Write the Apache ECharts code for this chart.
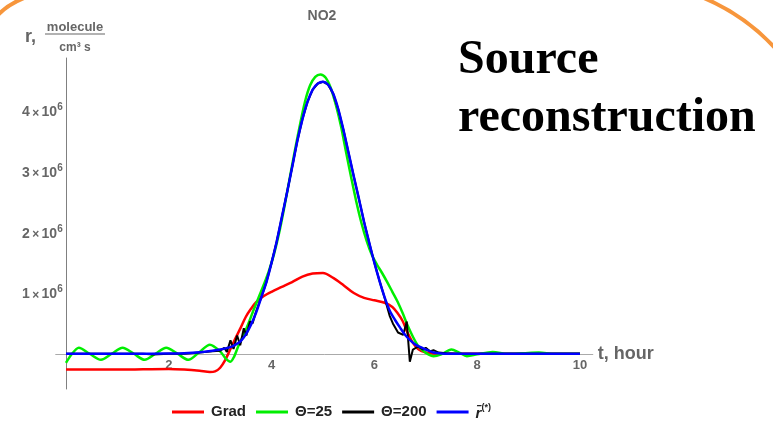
<!DOCTYPE html>
<html><head><meta charset="utf-8">
<script src="https://cdn.jsdelivr.net/npm/echarts@6/dist/echarts.min.js"></script>
<style>html,body{margin:0;padding:0;background:#fff}#c{width:773px;height:421px}</style>
</head><body><div id="c"></div>
<script>
// t in hours, r in units of 10^6 molecule/(cm^3 s)
const xTicks = [2, 4, 6, 8, 10];
const yTicks = [1, 2, 3, 4];
const seriesNames = ['Grad', 'Θ=25', 'Θ=200', 'r̄(*)'];
const seriesColors = ['#ff0000', '#00ee00', '#000000', '#0000ff'];

const grad = [[0,-0.26],[0.5,-0.26],[1,-0.26],[1.5,-0.255],[2,-0.25],[2.3,-0.26],[2.6,-0.28],[2.8,-0.30],[2.9,-0.29],[3.0,-0.23],[3.1,-0.10],[3.2,0.08],[3.3,0.26],[3.4,0.43],[3.5,0.61],[3.6,0.74],[3.7,0.85],[3.85,0.95],[4.0,1.02],[4.2,1.10],[4.4,1.18],[4.6,1.27],[4.8,1.32],[5.0,1.33],[5.2,1.25],[5.4,1.13],[5.6,1.0],[5.8,0.92],[6.0,0.88],[6.2,0.84],[6.35,0.77],[6.45,0.67],[6.55,0.54],[6.65,0.34],[6.75,0.18],[6.85,0.08],[7.0,0.02],[7.3,0],[8,0],[9,0],[10,0]];

const theta25 = [[0,-0.15],[0.1,-0.02],[0.25,0.10],[0.46,0.0],[0.68,-0.10],[0.89,0.0],[1.1,0.10],[1.32,0.0],[1.53,-0.10],[1.74,0.0],[1.95,0.10],[2.17,0.0],[2.38,-0.10],[2.6,0.03],[2.8,0.15],[3.0,0.04],[3.1,-0.07],[3.2,-0.13],[3.27,-0.05],[3.35,0.12],[3.45,0.3],[3.55,0.5],[3.65,0.72],[3.75,0.93],[3.85,1.14],[3.95,1.37],[4.05,1.65],[4.15,2.0],[4.25,2.42],[4.35,2.88],[4.45,3.33],[4.55,3.76],[4.65,4.15],[4.75,4.42],[4.85,4.56],[4.95,4.6],[5.05,4.55],[5.15,4.38],[5.25,4.1],[5.35,3.75],[5.45,3.32],[5.55,2.9],[5.65,2.5],[5.75,2.15],[5.85,1.86],[5.95,1.63],[6.05,1.47],[6.15,1.33],[6.25,1.18],[6.35,1.02],[6.45,0.86],[6.55,0.67],[6.65,0.46],[6.75,0.28],[6.85,0.13],[6.95,0.05],[7.05,-0.01],[7.15,-0.04],[7.3,-0.01],[7.5,0.07],[7.65,0.02],[7.8,-0.04],[8.0,-0.01],[8.3,0.03],[8.6,0.0],[8.9,0.01],[9.2,0.02],[9.5,0.0],[10,0]];

const theta200 = [[0,0],[0.5,0],[1,0],[1.5,0],[1.7,-0.01],[2.0,0.0],[2.3,0.0],[2.6,0.02],[2.85,0.04],[3.0,0.05],[3.08,0.1],[3.13,0.03],[3.2,0.22],[3.26,0.08],[3.33,0.3],[3.39,0.14],[3.46,0.42],[3.51,0.3],[3.58,0.53],[3.63,0.5],[3.7,0.7],[3.8,0.93],[3.9,1.18],[4.0,1.5],[4.1,1.85],[4.2,2.25],[4.3,2.65],[4.4,3.07],[4.5,3.5],[4.6,3.86],[4.7,4.15],[4.8,4.35],[4.9,4.45],[5.0,4.48],[5.1,4.43],[5.2,4.28],[5.3,4.02],[5.4,3.68],[5.5,3.3],[5.6,2.92],[5.7,2.55],[5.8,2.17],[5.9,1.83],[6.0,1.5],[6.1,1.2],[6.2,0.92],[6.3,0.62],[6.36,0.5],[6.46,0.35],[6.56,0.31],[6.63,0.53],[6.66,0.2],[6.69,-0.13],[6.75,0.07],[6.85,0.12],[6.95,0.07],[7.0,0.1],[7.08,0.04],[7.15,0.06],[7.25,0.02],[7.4,0.01],[7.6,0],[8,0],[9,0],[10,0]];

const rStar = [[0,0],[0.5,0],[1,0],[1.5,0],[2,0.005],[2.3,0.01],[2.6,0.025],[2.85,0.05],[3.0,0.07],[3.2,0.11],[3.3,0.15],[3.4,0.21],[3.5,0.32],[3.6,0.48],[3.7,0.68],[3.8,0.93],[3.9,1.18],[4.0,1.5],[4.1,1.85],[4.2,2.25],[4.3,2.65],[4.4,3.07],[4.5,3.5],[4.6,3.86],[4.7,4.15],[4.8,4.35],[4.9,4.45],[5.0,4.48],[5.1,4.43],[5.2,4.28],[5.3,4.02],[5.4,3.68],[5.5,3.3],[5.6,2.92],[5.7,2.55],[5.8,2.17],[5.9,1.83],[6.0,1.5],[6.1,1.2],[6.2,0.93],[6.3,0.71],[6.4,0.56],[6.5,0.43],[6.6,0.31],[6.7,0.22],[6.8,0.15],[6.9,0.11],[7.0,0.07],[7.15,0.02],[7.3,0.005],[7.6,0],[8,0],[9,0],[10,0]];

const seriesData = [grad, theta25, theta200, rStar];
const seriesWidths = [2.5, 2.5, 2, 2.5];
const seriesSmooth = [0.3, 0.3, false, 0.3];

const SANS = '"Liberation Sans", Arial, sans-serif';
const SERIF = '"Liberation Serif", "Times New Roman", serif';
const GRAY = '#666';

const chart = echarts.init(document.getElementById('c'), null, {renderer: 'canvas'});
chart.setOption({
  animation: false,
  backgroundColor: '#fff',
  title: {
    text: 'NO2', left: 322, top: 7, textAlign: 'center', padding: 0,
    textStyle: {fontFamily: SANS, fontSize: 14, fontWeight: 'bold', color: GRAY, lineHeight: 18}
  },
  grid: {left: 55.7, right: 180.2, top: 58, bottom: 32, outerBoundsMode: 'none', containLabel: false},
  legend: {
    left: 172, top: 403, padding: 0, itemWidth: 32, itemHeight: 3, itemGap: 10,
    icon: 'rect',
    data: seriesNames,
    formatter: function (name) { return name === 'r̄(*)' ? '{r|r̄}{s|(*)}' : name; },
    textStyle: {
      fontFamily: SANS, fontSize: 15, fontWeight: 'bold', color: '#222', padding: [0, 0, 0, 2],
      rich: {
        r: {fontFamily: SANS, fontSize: 15, fontWeight: 'bold', fontStyle: 'italic', color: '#222', lineHeight: 18, verticalAlign: 'bottom'},
        s: {fontFamily: SANS, fontSize: 9, fontWeight: 'bold', color: '#222', lineHeight: 10, verticalAlign: 'top'}
      }
    }
  },
  xAxis: {
    type: 'value', min: -0.2, max: 10.25,
    splitLine: {show: false},
    axisLine: {onZero: true, lineStyle: {color: '#aaa', width: 1}},
    axisTick: {show: false},
    axisLabel: {customValues: xTicks, margin: -30, color: GRAY, fontSize: 13, fontWeight: 'bold', fontFamily: SANS},
    name: 't, hour', nameLocation: 'end', nameGap: 5,
    nameTextStyle: {fontFamily: SANS, fontSize: 18, fontWeight: 'bold', color: GRAY}
  },
  yAxis: {
    type: 'value', min: -0.58, max: 4.87,
    splitLine: {show: false},
    axisLine: {onZero: true, lineStyle: {color: '#808080', width: 1}},
    axisTick: {show: false},
    axisLabel: {
      customValues: yTicks, margin: -7,
      formatter: function (v) { return '{a|' + v + '}{x|\u2009×\u2009}{a|10}{s|6}'; },
      rich: {
        a: {fontFamily: SANS, fontSize: 14, fontWeight: 'bold', color: GRAY, lineHeight: 17, verticalAlign: 'bottom'},
        x: {fontFamily: SANS, fontSize: 12, fontWeight: 'bold', color: GRAY, lineHeight: 17, verticalAlign: 'bottom'},
        s: {fontFamily: SANS, fontSize: 10, fontWeight: 'bold', color: GRAY, lineHeight: 10, verticalAlign: 'top'}
      }
    }
  },
  series: seriesNames.map(function (n, i) {
    return {
      name: n, type: 'line', data: seriesData[i], symbol: 'none', showSymbol: false,
      smooth: seriesSmooth[i], z: 2 + i,
      lineStyle: {color: seriesColors[i], width: seriesWidths[i]},
      itemStyle: {color: seriesColors[i]}
    };
  }),
  graphic: [
    {type: 'bezierCurve', shape: {x1: 704, y1: -2, x2: 776, y2: 49, cpx1: 746, cpy1: 16}, style: {stroke: '#f7963c', lineWidth: 4, fill: null}},
    {type: 'bezierCurve', shape: {x1: -2, y1: 15, x2: 24, y2: -2, cpx1: 7, cpy1: 5}, style: {stroke: '#f7963c', lineWidth: 4, fill: null}},
    {type: 'text', x: 25, y: 37, style: {text: 'r,', font: 'bold 18px ' + SANS, fill: GRAY, textAlign: 'left', textVerticalAlign: 'middle'}},
    {type: 'text', x: 75, y: 27, style: {text: 'molecule', font: 'bold 13px ' + SANS, fill: GRAY, textAlign: 'center', textVerticalAlign: 'middle'}},
    {type: 'line', shape: {x1: 45, y1: 34, x2: 105, y2: 34}, style: {stroke: GRAY, lineWidth: 1.2}},
    {type: 'text', x: 75, y: 48, style: {text: 'cm³ s', font: 'bold 12px ' + SANS, fill: GRAY, textAlign: 'center', textVerticalAlign: 'middle'}},
    {type: 'text', x: 458, y: 61, style: {text: 'Source', font: 'bold 48px ' + SERIF, fill: '#000', textAlign: 'left', textVerticalAlign: 'middle'}},
    {type: 'text', x: 458, y: 119, style: {text: 'reconstruction', font: 'bold 48px ' + SERIF, fill: '#000', textAlign: 'left', textVerticalAlign: 'middle'}}
  ]
});
</script>
</body></html>
